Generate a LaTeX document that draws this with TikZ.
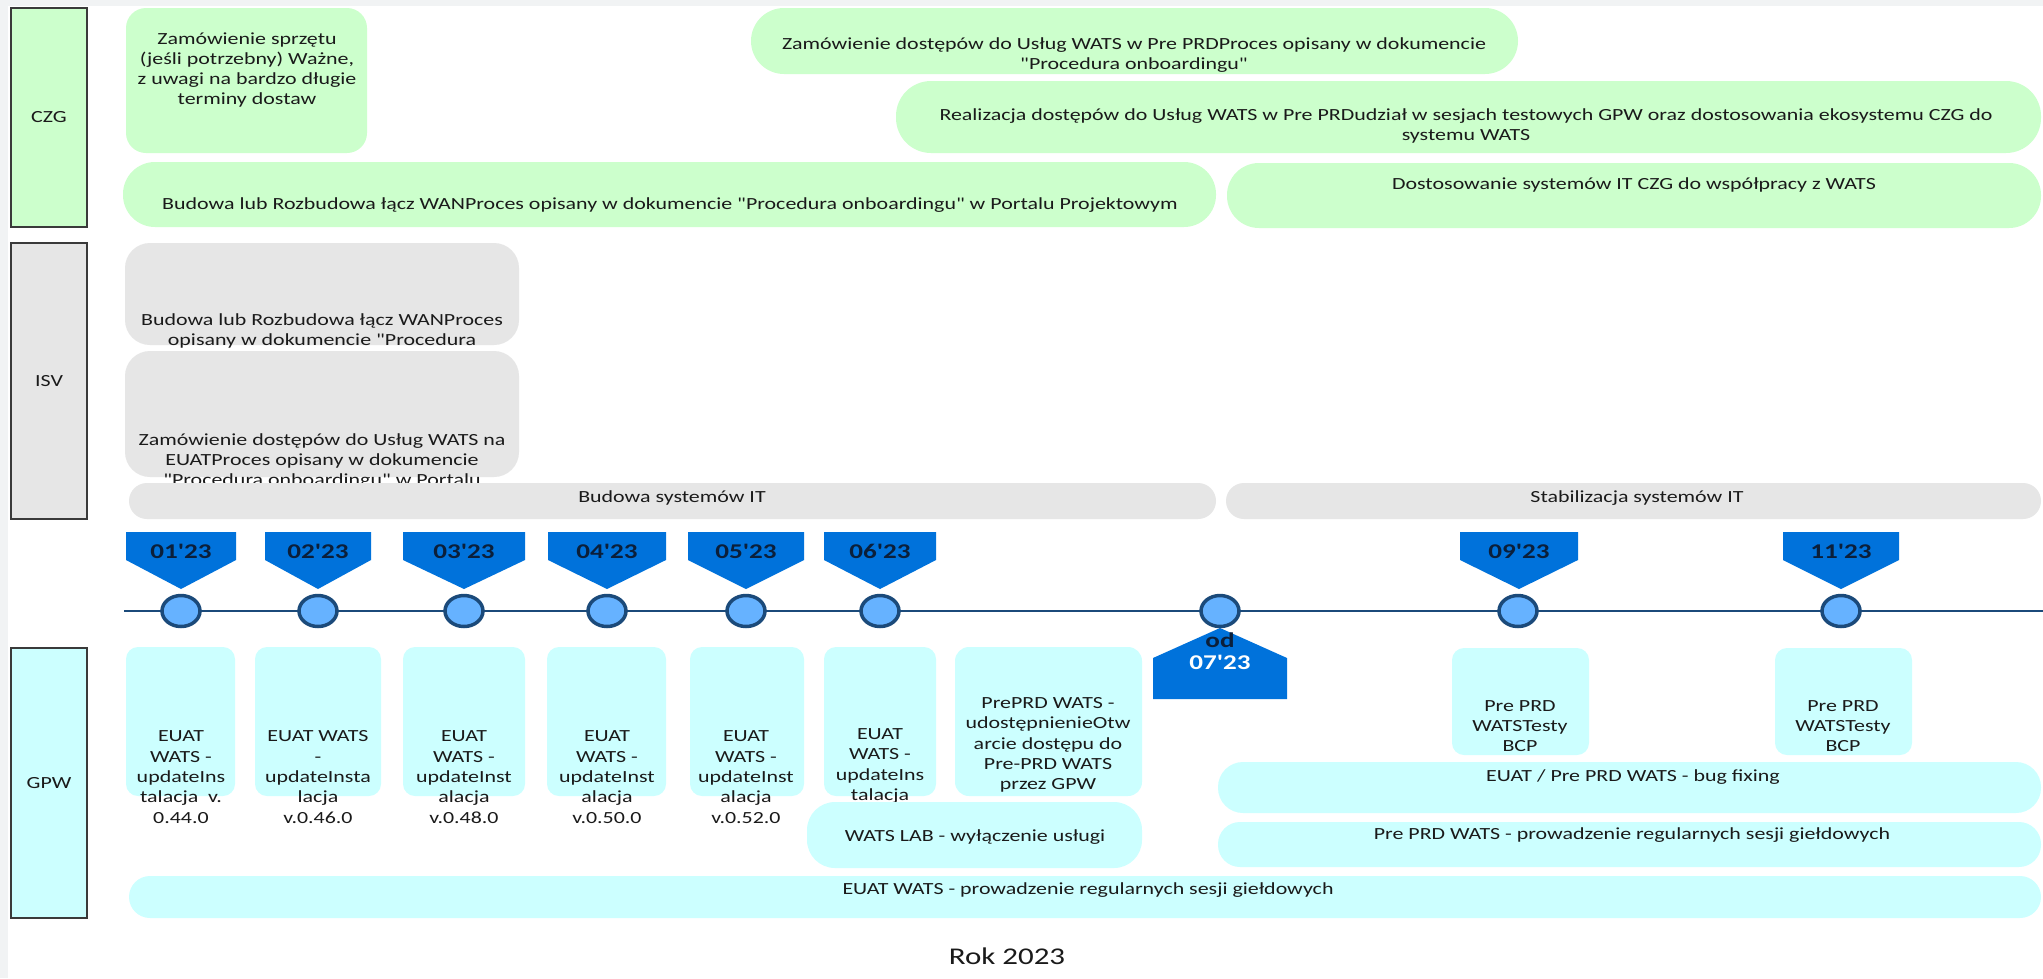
\documentclass[tikz,border=0pt]{standalone}
\usepackage{fontspec}
\setmainfont{Carlito}[FakeStretch=1.29,Ligatures=TeXOff]
\usetikzlibrary{shapes.geometric}
\definecolor{grn}{HTML}{CCFFCC}
\definecolor{gry}{HTML}{E6E6E6}
\definecolor{cyn}{HTML}{CCFFFF}
\definecolor{bgstrip}{HTML}{F1F3F4}
\definecolor{lanec}{HTML}{3A3A3A}
\definecolor{txtc}{HTML}{1A1A1A}
\definecolor{mkblue}{HTML}{0072DB}
\definecolor{navy}{HTML}{0B1F3A}
\definecolor{dblue}{HTML}{1B4A7A}
\definecolor{lblue}{HTML}{66B2FF}
\newcommand\rbox[7]{\node[#1,minimum width={(#5-#3)*1pt},minimum height={(#6-#4)*1pt}] (#2) at ({(#3+#5)/2},{(#4+#6)/2}) {#7};}
\newcommand\mkdown[4]{%
  \path[mk] ({#2-#3},532) -- ({#2+#3},532) -- ({#2+#3},560) -- (#2,589) -- ({#2-#3},560) -- cycle;
  \node[mtxt] (#1) at (#2,551) {#4};}
\tikzset{
  base/.style={inner sep=0pt,outer sep=0pt,draw=none},
  gbox/.style={base,fill=grn},
  ybox/.style={base,fill=gry},
  cbox/.style={base,fill=cyn},
  lane/.style={base,draw=lanec,line width=1.3pt,text=txtc,font=\fontsize{17}{20.3}\selectfont},
  txt/.style={align=center,inner sep=0pt,text=txtc,font=\fontsize{17}{20.3}\selectfont},
  mk/.style={fill=mkblue},
  mtxt/.style={inner sep=0pt,text=navy,font=\fontsize{21}{24}\selectfont\bfseries},
  dot/.style={ellipse,draw=dblue,line width=3.5pt,fill=lblue,minimum width=38pt,minimum height=31pt,inner sep=0pt},
  tl/.style={draw=dblue,line width=2.8pt},
}
\begin{document}
\begin{tikzpicture}[x=1pt,y=-1pt]
\useasboundingbox (0,0) rectangle (2043,978);
\fill[white] (0,0) rectangle (2043,978);
\fill[bgstrip] (0,0) rectangle (2043,6);
\fill[bgstrip] (0,0) rectangle (8,978);
% lanes
\rbox{lane,fill=grn}{czg}{11}{8}{87}{227}{CZG}
\rbox{lane,fill=gry}{isv}{11}{243}{87}{519}{ISV}
\rbox{lane,fill=cyn}{gpw}{11}{648}{87}{918}{GPW}
% CZG
\rbox{gbox,rounded corners=20pt}{g1}{126}{8}{367}{153}{}
\node[txt] (tg1) at (247,70) {Zamówienie sprzętu\\(jeśli potrzebny) Ważne,\\z uwagi na bardzo długie\\terminy dostaw};
\rbox{gbox,rounded corners=33pt}{g2}{751}{8}{1518}{74}{}
\node[txt] (tg2) at (1134,55) {Zamówienie dostępów do Usług WATS w Pre PRDProces opisany w dokumencie\\"Procedura onboardingu"};
\rbox{gbox,rounded corners=35pt}{g3}{896}{81}{2041}{153}{}
\node[txt] (tg3) at (1466,126) {Realizacja dostępów do Usług WATS w Pre PRDudział w sesjach testowych GPW oraz dostosowania ekosystemu CZG do\\systemu WATS};
\rbox{gbox,rounded corners=32pt}{g4}{123}{162}{1216}{227}{}
\node[txt] (tg4) at (670,205) {Budowa lub Rozbudowa łącz WANProces opisany w dokumencie "Procedura onboardingu" w Portalu Projektowym};
\rbox{gbox,rounded corners=32pt}{g5}{1227}{163}{2041}{228}{}
\node[txt] (tg5) at (1634,185) {Dostosowanie systemów IT CZG do współpracy z WATS};
% ISV
\rbox{ybox,rounded corners=25pt}{i1}{125}{243}{519}{345}{}
\node[txt] (ti1) at (322,331) {Budowa lub Rozbudowa łącz WANProces\\opisany w dokumencie "Procedura};
\rbox{ybox,rounded corners=25pt}{i2}{125}{351}{519}{477}{}
\node[txt] (ti2) at (322,461) {Zamówienie dostępów do Usług WATS na\\EUATProces opisany w dokumencie\\"Procedura onboardingu" w Portalu};
\rbox{ybox,rounded corners=18pt}{i3}{129}{483}{1216}{519}{}
\node[txt] (ti3) at (672,498) {Budowa systemów IT};
\rbox{ybox,rounded corners=18pt}{i4}{1226}{483}{2041}{519}{}
\node[txt] (ti4) at (1637,498) {Stabilizacja systemów IT};
% timeline
\coordinate (tls) at (124,611);
\coordinate (tle) at (2043,611);
\draw[tl] (tls) -- (tle);
\mkdown{m1}{181}{55}{01'23}
\mkdown{m2}{318}{53}{02'23}
\mkdown{m3}{464}{61}{03'23}
\mkdown{m4}{607}{59}{04'23}
\mkdown{m5}{746}{58}{05'23}
\mkdown{m6}{880}{56}{06'23}
\mkdown{m9}{1519}{59}{09'23}
\mkdown{m11}{1841}{58}{11'23}
\path[mk] (1153,699) -- (1153,658) -- (1220,628) -- (1287,658) -- (1287,699) -- cycle;
\node[mtxt] (m7a) at (1220,640) {od};
\node[mtxt,text=white] (m7b) at (1220,662) {07'23};
\node[dot] (c1) at (181,611) {};
\node[dot] (c2) at (318,611) {};
\node[dot] (c3) at (464,611) {};
\node[dot] (c4) at (607,611) {};
\node[dot] (c5) at (746,611) {};
\node[dot] (c6) at (880,611) {};
\node[dot] (c7) at (1220,611) {};
\node[dot] (c9) at (1518,611) {};
\node[dot] (c11) at (1841,611) {};
% GPW
\rbox{cbox,rounded corners=12pt}{b1}{126}{647}{235}{796}{}
\node[txt] (tb1) at (181,777) {EUAT\\WATS -\\updateIns\\talacja \ v.\\0.44.0};
\rbox{cbox,rounded corners=12pt}{b2}{255}{647}{381}{796}{}
\node[txt] (tb2) at (318,777) {EUAT WATS\\-\\updateInsta\\lacja\\v.0.46.0};
\rbox{cbox,rounded corners=12pt}{b3}{403}{647}{525}{796}{}
\node[txt] (tb3) at (464,777) {EUAT\\WATS -\\updateInst\\alacja\\v.0.48.0};
\rbox{cbox,rounded corners=12pt}{b4}{547}{647}{666}{796}{}
\node[txt] (tb4) at (607,777) {EUAT\\WATS -\\updateInst\\alacja\\v.0.50.0};
\rbox{cbox,rounded corners=12pt}{b5}{690}{647}{804}{796}{}
\node[txt] (tb5) at (746,777) {EUAT\\WATS -\\updateInst\\alacja\\v.0.52.0};
\rbox{cbox,rounded corners=12pt}{b6}{824}{647}{936}{796}{}
\node[txt] (tb6) at (880,766) {EUAT\\WATS -\\updateIns\\talacja};
\rbox{cbox,rounded corners=14pt}{b7}{955}{647}{1142}{796}{}
\node[txt] (tb7) at (1048,745) {PrePRD WATS -\\udostępnienieOtw\\arcie dostępu do\\Pre-PRD WATS\\przez GPW};
\rbox{cbox,rounded corners=28pt}{b8}{807}{802}{1142}{868}{}
\node[txt] (tb8) at (975,837) {WATS LAB - wyłączenie usługi};
\rbox{cbox,rounded corners=12pt}{p1}{1452}{648}{1589}{755}{}
\node[txt] (tp1) at (1520,726) {Pre PRD\\WATSTesty\\BCP};
\rbox{cbox,rounded corners=12pt}{p2}{1775}{648}{1912}{755}{}
\node[txt] (tp2) at (1843,726) {Pre PRD\\WATSTesty\\BCP};
\rbox{cbox,rounded corners=25pt}{p3}{1218}{762}{2041}{813}{}
\node[txt] (tp3) at (1633,777) {EUAT / Pre PRD WATS - bug fixing};
\rbox{cbox,rounded corners=22pt}{p4}{1218}{822}{2041}{867}{}
\node[txt] (tp4) at (1632,835) {Pre PRD WATS - prowadzenie regularnych sesji giełdowych};
\rbox{cbox,rounded corners=21pt}{p5}{129}{876}{2041}{918}{}
\node[txt] (tp5) at (1088,890) {EUAT WATS - prowadzenie regularnych sesji giełdowych};
\node[txt,font=\fontsize{24}{28}\selectfont] (rok) at (1007,956) {Rok 2023};
\end{tikzpicture}
\end{document}
